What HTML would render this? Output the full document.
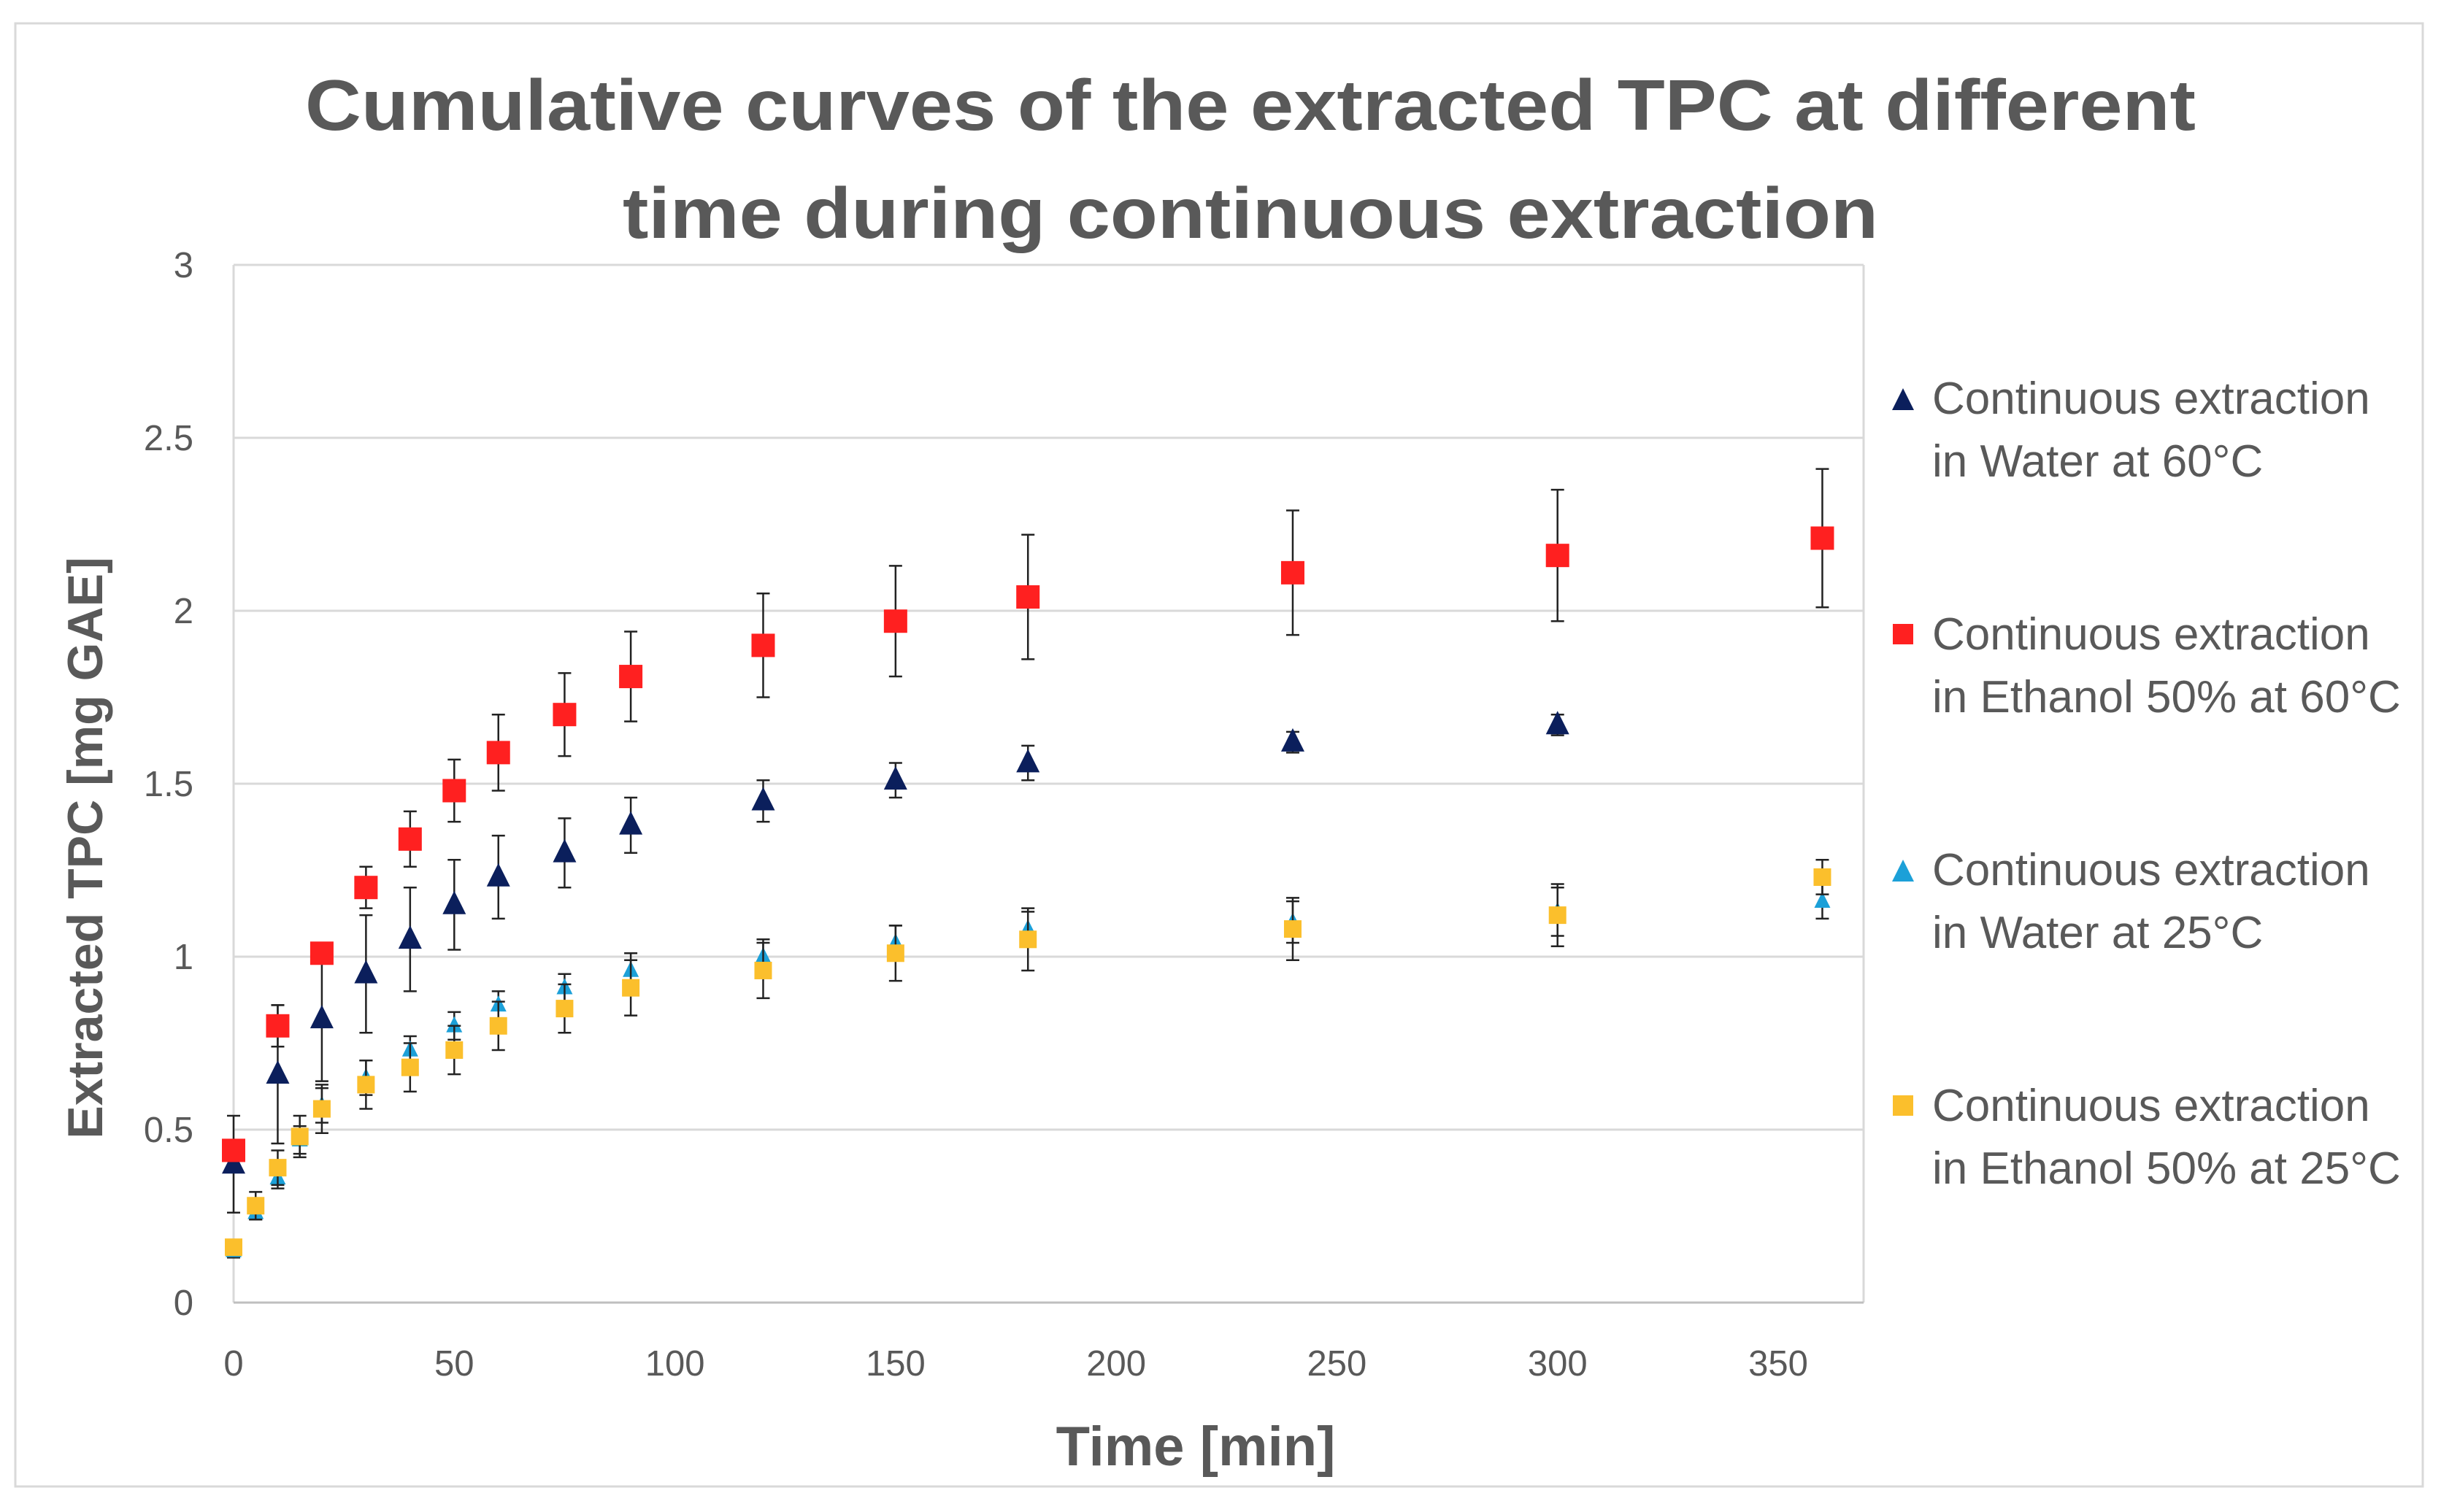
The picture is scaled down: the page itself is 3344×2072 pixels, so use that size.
<!DOCTYPE html>
<html><head><meta charset="utf-8"><style>
html,body{margin:0;padding:0;background:#fff}
svg{display:block}
text{font-family:"Liberation Sans",sans-serif}
</style></head><body>
<svg id="chart" width="3344" height="2072" viewBox="0 0 3344 2072" xmlns="http://www.w3.org/2000/svg">
<rect x="21" y="32" width="3298" height="2005" fill="#fff" stroke="#d9d9d9" stroke-width="3"/>
<text x="1713" y="178" text-anchor="middle" font-size="98" font-weight="bold" fill="#595959" textLength="2590" lengthAdjust="spacingAndGlyphs">Cumulative curves of the extracted TPC at different</text>
<text x="1713" y="326" text-anchor="middle" font-size="98" font-weight="bold" fill="#595959" textLength="1720" lengthAdjust="spacingAndGlyphs">time during continuous extraction</text>
<g id="grid"></g>
<g id="axes"></g>
<g id="series"></g>
<text x="1638" y="2008" text-anchor="middle" font-size="76" font-weight="bold" fill="#595959">Time [min]</text>
<text transform="translate(140,1162) rotate(-90)" text-anchor="middle" font-size="68" font-weight="bold" fill="#595959">Extracted TPC [mg GAE]</text>
<g id="legend"></g>
</svg>
<script>
const xTicks=[0,50,100,150,200,250,300,350];
const yTicks=[0,0.5,1,1.5,2,2.5,3];
const yTickLabels=["0","0.5","1","1.5","2","2.5","3"];
const tW60=[0,10,20,30,40,50,60,75,90,120,150,180,240,300];
const vW60=[0.40,0.66,0.82,0.95,1.05,1.15,1.23,1.30,1.38,1.45,1.51,1.56,1.62,1.67];
const eW60=[0.14,0.20,0.18,0.17,0.15,0.13,0.12,0.10,0.08,0.06,0.05,0.05,0.03,0.03];
const tE60=[0,10,20,30,40,50,60,75,90,120,150,180,240,300,360];
const vE60=[0.44,0.80,1.01,1.20,1.34,1.48,1.59,1.70,1.81,1.90,1.97,2.04,2.11,2.16,2.21];
const eE60=[0.02,0.06,0.03,0.06,0.08,0.09,0.11,0.12,0.13,0.15,0.16,0.18,0.18,0.19,0.20];
const tW25=[0,5,10,15,20,30,40,50,60,75,90,120,150,180,240,300,360];
const vW25=[0.15,0.26,0.36,0.47,0.57,0.65,0.73,0.80,0.86,0.91,0.96,1.00,1.04,1.08,1.10,1.13,1.16];
const eW25=[0.02,0.02,0.03,0.04,0.05,0.05,0.04,0.04,0.04,0.04,0.05,0.05,0.05,0.05,0.06,0.07,0.05];
const tE25=[0,5,10,15,20,30,40,50,60,75,90,120,150,180,240,300,360];
const vE25=[0.16,0.28,0.39,0.48,0.56,0.63,0.68,0.73,0.80,0.85,0.91,0.96,1.01,1.05,1.08,1.12,1.23];
const eE25=[0.02,0.04,0.05,0.06,0.07,0.07,0.07,0.07,0.07,0.07,0.08,0.08,0.08,0.09,0.09,0.09,0.05];

const NS="http://www.w3.org/2000/svg";
const X0=320,X1=2436,Y0=1785,Y1=363,PR=2553;
const xs=v=>X0+(X1-X0)*v/350;
const ys=v=>Y0+(Y1-Y0)*v/3;
function mk(tag,attrs,parent){const e=document.createElementNS(NS,tag);for(const k in attrs)e.setAttribute(k,attrs[k]);parent.appendChild(e);return e;}
const grid=document.getElementById('grid'),axes=document.getElementById('axes'),ser=document.getElementById('series'),leg=document.getElementById('legend');
yTicks.forEach((t,i)=>{
  const l=mk('line',{x1:X0,x2:PR,y1:ys(t),y2:ys(t),stroke:'#d9d9d9','stroke-width':3},grid);
  
  
  const tx=mk('text',{x:265,y:ys(t)+17,'text-anchor':'end','font-size':49,fill:'#595959'},axes);
  tx.textContent=yTickLabels[i];
  
  
});
const rl=mk('line',{x1:PR,x2:PR,y1:Y1,y2:Y0,stroke:'#d9d9d9','stroke-width':3},grid);


const yl=mk('line',{x1:X0,x2:X0,y1:Y1,y2:Y0,stroke:'#d9d9d9','stroke-width':3},axes);


const xl=mk('line',{x1:X0,x2:PR,y1:Y0,y2:Y0,stroke:'#bfbfbf','stroke-width':3},axes);


xTicks.forEach(t=>{
  const tx=mk('text',{x:xs(t),y:1885,'text-anchor':'middle','font-size':49,fill:'#595959'},axes);
  tx.textContent=t;
  
  
});
function marker(shape,cx,cy,s,color,parent){
  if(shape==='sq') return mk('rect',{x:cx-s/2,y:cy-s/2,width:s,height:s,fill:color},parent);
  return mk('polygon',{points:`${cx},${cy-s*0.6} ${cx-s/2},${cy+s*0.4} ${cx+s/2},${cy+s*0.4}`,fill:color},parent);
}
function drawSeries(name,ts,vs,es,shape,size,color){
  const g=mk('g',{},ser);
  
  
  ts.forEach((t,i)=>{
    const x=xs(t),yt=ys(vs[i]+es[i]),yb=ys(vs[i]-es[i]);
    const eb=mk('path',{d:`M${x},${yt}V${yb}M${x-9},${yt}H${x+9}M${x-9},${yb}H${x+9}`,stroke:'#222','stroke-width':2.5,fill:'none'},g);
    
    
  });
  ts.forEach((t,i)=>{
    const m=marker(shape,xs(t),ys(vs[i]),size,color,g);
    
    
  });
}
drawSeries('series-water-25',tW25,vW25,eW25,'tri',22,'#1ca0d8');
drawSeries('series-ethanol-25',tE25,vE25,eE25,'sq',24,'#fbbf2c');
drawSeries('series-water-60',tW60,vW60,eW60,'tri',32,'#0b1f5c');
drawSeries('series-ethanol-60',tE60,vE60,eE60,'sq',32,'#ff2020');
const legItems=[
 ['tri','#0b1f5c','Continuous extraction','in Water at 60°C',546],
 ['sq','#ff2020','Continuous extraction','in Ethanol 50% at 60°C',869],
 ['tri','#1ca0d8','Continuous extraction','in Water at 25°C',1192],
 ['sq','#fbbf2c','Continuous extraction','in Ethanol 50% at 25°C',1515]];
legItems.forEach(it=>{
  const g=mk('g',{},leg);
  
  
  marker(it[0],2607,it[4]+(it[0]==='tri'?4:0),it[0]==='tri'?30:28,it[1],g);
  const t1=mk('text',{x:2647,y:it[4]+21,'font-size':62,fill:'#595959'},g);t1.textContent=it[2];
  const t2=mk('text',{x:2647,y:it[4]+107,'font-size':62,fill:'#595959'},g);t2.textContent=it[3];
});
</script>
</body></html>
